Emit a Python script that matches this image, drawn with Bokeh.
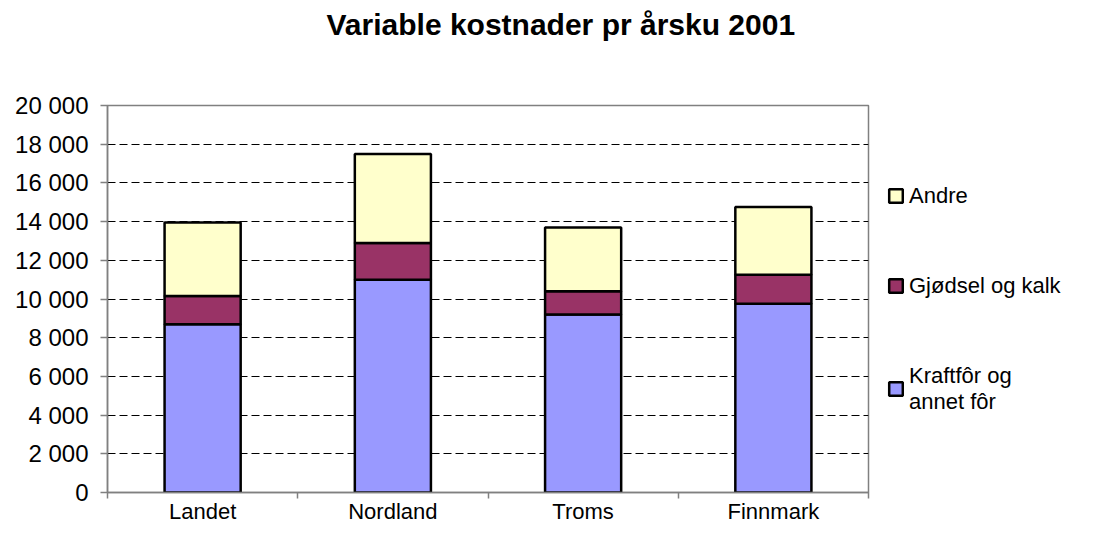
from bokeh.plotting import figure
from bokeh.models import Legend, LegendItem, FixedTicker, Range1d, ColumnDataSource
from bokeh.embed import file_html
from bokeh.resources import INLINE

title_text = "Variable kostnader pr årsku 2001"
categories = ["Landet", "Nordland", "Troms", "Finnmark"]
series_names = ["Kraftfôr og annet fôr", "Gjødsel og kalk", "Andre"]
legend_labels = ["Kraftfôr og\nannet fôr", "Gjødsel og kalk", "Andre"]
kraftfor = [8700, 11000, 9200, 9750]
gjodsel = [1450, 1900, 1200, 1500]
andre = [3800, 4600, 3300, 3500]
colors = ["#9999FF", "#993366", "#FFFFCC"]
y_ticks = [0, 2000, 4000, 6000, 8000, 10000, 12000, 14000, 16000, 18000, 20000]
y_tick_labels = ["0", "2 000", "4 000", "6 000", "8 000", "10 000", "12 000",
                 "14 000", "16 000", "18 000", "20 000"]

FONT = "Liberation Sans"
xs = list(range(len(categories)))
source = ColumnDataSource(dict(x=xs, k=kraftfor, g=gjodsel, a=andre))

p = figure(frame_width=761, frame_height=387, output_backend="svg", toolbar_location=None,
           x_range=Range1d(-0.5, len(categories) - 0.5), y_range=Range1d(0, 20000),
           min_border_left=107, min_border_right=212, min_border_top=105, min_border_bottom=31)
p.background_fill_color = "white"
p.border_fill_color = "white"
p.outline_line_color = "#808080"
p.outline_line_width = 1.5

renderers = p.vbar_stack(["k", "g", "a"], x="x", width=0.4, source=source,
                         color=colors, line_color="black", line_width=2.5)

# title (two empty lines below it lift it away from the frame)
p.title.text = title_text + "\n \n "
p.title.text_font = FONT
p.title.text_font_style = "bold"
p.title.text_font_size = "30px"
p.title.text_line_height = 0.87
p.title.text_color = "black"
p.title.align = "left"
p.title.vertical_align = "top"
p.title.offset = 219
p.title.standoff = 12

# axes
yax = p.yaxis[0]
yax.ticker = FixedTicker(ticks=y_ticks)
yax.major_label_overrides = {t: l for t, l in zip(y_ticks, y_tick_labels)}
yax.axis_line_color = "#808080"
yax.axis_line_width = 1.5
yax.major_tick_line_color = "#808080"
yax.major_tick_line_width = 1.5
yax.major_tick_out = 7
yax.major_tick_in = 0
yax.minor_tick_line_color = None
yax.major_label_text_font = FONT
yax.major_label_text_font_size = "24px"
yax.major_label_text_color = "black"
yax.major_label_standoff = 12

xax = p.xaxis[0]
xax.ticker = FixedTicker(ticks=xs, minor_ticks=[i - 0.5 for i in range(len(categories) + 1)])
xax.major_label_overrides = {i: c for i, c in zip(xs, categories)}
xax.axis_line_color = "#808080"
xax.axis_line_width = 1.5
xax.major_tick_line_color = None
xax.minor_tick_line_color = "#808080"
xax.minor_tick_line_width = 1.5
xax.minor_tick_out = 6
xax.minor_tick_in = 0
xax.major_tick_out = 6
xax.major_tick_in = 0
xax.major_label_text_font = FONT
xax.major_label_text_font_size = "22px"
xax.major_label_text_color = "black"
xax.major_label_standoff = 0

p.xgrid.grid_line_color = None
p.ygrid.ticker = FixedTicker(ticks=y_ticks[1:-1])
p.ygrid.grid_line_color = "black"
p.ygrid.grid_line_width = 1
p.ygrid.grid_line_dash = "8 4"

# legend
items = [LegendItem(label=legend_labels[i], renderers=[renderers[i]]) for i in [2, 1, 0]]
legend = Legend(items=items, location="center_left")
legend.background_fill_alpha = 0
legend.border_line_alpha = 0
legend.padding = 0
legend.margin = 19
legend.spacing = 64
legend.glyph_width = 17
legend.glyph_height = 17
legend.label_standoff = 5
legend.label_text_font = FONT
legend.label_text_font_size = "22px"
legend.label_text_color = "black"
legend.label_text_baseline = "middle"
legend.label_text_line_height = 1.1
p.add_layout(legend, "right")

open("out.html", "w").write(file_html(p, INLINE))
